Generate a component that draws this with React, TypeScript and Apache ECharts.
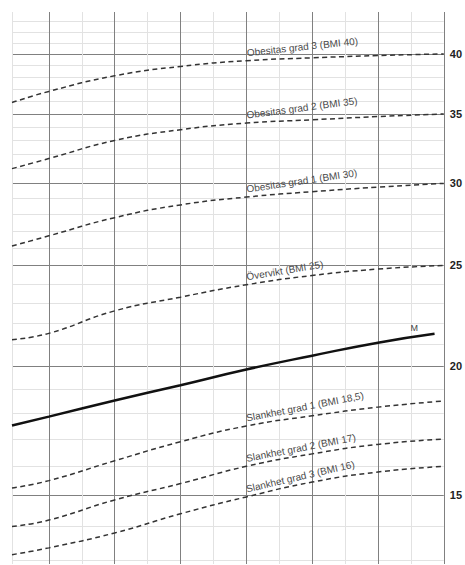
import React, { useEffect, useRef } from "react";
import * as echarts from "echarts";

// Ages (years) at which the curves were read
const ages = [11.44, 12, 13, 14, 15, 16, 17, 18];
const medianAges = [11.44, 12, 13, 14, 15, 16, 17, 17.86];

// BMI cut-off curves
const obese3 = [35.9, 36.8, 38.1, 38.9, 39.4, 39.65, 39.85, 40];
const obese2 = [31.0, 31.7, 33.0, 33.8, 34.3, 34.55, 34.8, 35];
const obese1 = [26.1, 26.7, 27.8, 28.6, 29.1, 29.45, 29.75, 30];
const overweight = [21.2, 21.5, 22.6, 23.3, 23.95, 24.45, 24.8, 25];
const thin1 = [15.25, 15.5, 16.2, 16.9, 17.5, 17.9, 18.25, 18.5];
const thin2 = [14.0, 14.2, 14.85, 15.4, 16.0, 16.45, 16.8, 17.0];
const thin3 = [13.15, 13.35, 13.8, 14.4, 14.95, 15.45, 15.8, 16.0];
const median = [17.52, 17.87, 18.52, 19.16, 19.84, 20.46, 21.06, 21.48];

const curveNames = [
  "Obesitas grad 3 (BMI 40)",
  "Obesitas grad 2 (BMI 35)",
  "Obesitas grad 1 (BMI 30)",
  "Övervikt (BMI 25)",
  "Slankhet grad 1 (BMI 18,5)",
  "Slankhet grad 2 (BMI 17)",
  "Slankhet grad 3 (BMI 16)",
];
const curveValues = [obese3, obese2, obese1, overweight, thin1, thin2, thin3];
const labelAngles = [6, 7.5, 8.5, 9.5, 11, 11, 13];
const labelAge = 15;
const medianName = "M";
const medianLabelAge = 17.55;
const medianLabelBmi = 21.3;

// Axis ranges and grid values
const xMin = 11.44;
const xMax = 18;
const xTicks = [11.44, 12, 12.5, 13, 13.5, 14, 14.5, 15, 15.5, 16, 16.5, 17, 17.5, 18];
const yMin = 12.88;
const yMax = 43.9;
const yGrid = [13, 14, 15, 16, 17, 18, 19, 20, 21, 22, 23, 24, 25, 26, 27, 28, 29, 30, 31, 32, 33, 34, 35, 36, 37, 38, 39, 40, 41, 42, 43];
const yLabels = [15, 20, 25, 30, 35, 40];

const DARK = "#808080";
const LIGHT = "#e2e2e2";
const FONT = "'Liberation Sans', Arial, sans-serif";

export default function App() {
  const ref = useRef<HTMLDivElement>(null);
  useEffect(() => {
    if (!ref.current) return;
    const chart = echarts.init(ref.current, undefined, { renderer: "svg" });
    const L = Math.log;

    const curveSeries = curveValues.map((vals, k) => ({
      type: "line",
      name: curveNames[k],
      data: ages.map((a, i) => [a, L(vals[i])]),
      smooth: 0.5,
      symbol: "none",
      silent: true,
      lineStyle: { color: "#333", width: 1.5, type: [5, 3.5] },
    }));

    const option = {
      animation: false,
      grid: { left: 12, right: 19, top: 12, bottom: 1 },
      xAxis: {
        type: "value",
        min: xMin,
        max: xMax,
        axisLine: { show: false },
        axisLabel: { show: false },
        axisTick: { show: false, customValues: xTicks },
        splitLine: { show: true, lineStyle: { color: [LIGHT, DARK], width: 1 } },
      },
      yAxis: {
        type: "value",
        position: "right",
        min: L(yMin),
        max: L(yMax),
        axisLine: { show: false },
        axisTick: { show: false, customValues: yGrid.map(L) },
        splitLine: {
          show: true,
          lineStyle: { color: [LIGHT, LIGHT, DARK, LIGHT, LIGHT], width: 1 },
        },
        axisLabel: {
          customValues: yLabels.map(L),
          formatter: (v: number) => String(Math.round(Math.exp(v))),
          fontWeight: "bold",
          fontSize: 11,
          fontFamily: FONT,
          color: "#222",
          margin: 6,
        },
      },
      series: [
        ...curveSeries,
        {
          type: "line",
          name: medianName,
          data: medianAges.map((a, i) => [a, L(median[i])]),
          smooth: 0.5,
          symbol: "none",
          silent: true,
          lineStyle: { color: "#111", width: 2.5 },
          markPoint: {
            symbol: "circle",
            symbolSize: 1,
            itemStyle: { color: "transparent" },
            silent: true,
            data: [
              {
                coord: [medianLabelAge, L(medianLabelBmi)],
                label: {
                  show: true,
                  formatter: medianName,
                  position: "top",
                  distance: 5,
                  fontSize: 9,
                  fontFamily: FONT,
                  color: "#444",
                },
              },
            ],
          },
        },
      ],
    };
    chart.setOption(option as any);

    // Rotated curve labels, placed through the chart's own coordinate system
    const graphic = curveNames.map((name, k) => {
      const vals = curveValues[k];
      const [px, py] = chart.convertToPixel({ gridIndex: 0 }, [
        labelAge,
        L(vals[ages.indexOf(labelAge)]),
      ]) as number[];
      return {
        type: "group",
        x: px + 1,
        y: py - 3,
        rotation: (labelAngles[k] * Math.PI) / 180,
        silent: true,
        children: [
          {
            type: "text",
            x: 0,
            y: 0,
            style: {
              text: name,
              fontSize: 10,
              fontFamily: FONT,
              fill: "#4a4a4a",
              align: "left",
              verticalAlign: "bottom",
            },
          },
        ],
      };
    });
    chart.setOption({ graphic: { elements: graphic } } as any);

    return () => chart.dispose();
  }, []);
  return (
    <div
      ref={ref}
      style={{ position: "absolute", left: 0, top: 0, width: 465, height: 565, background: "#fff" }}
    />
  );
}
